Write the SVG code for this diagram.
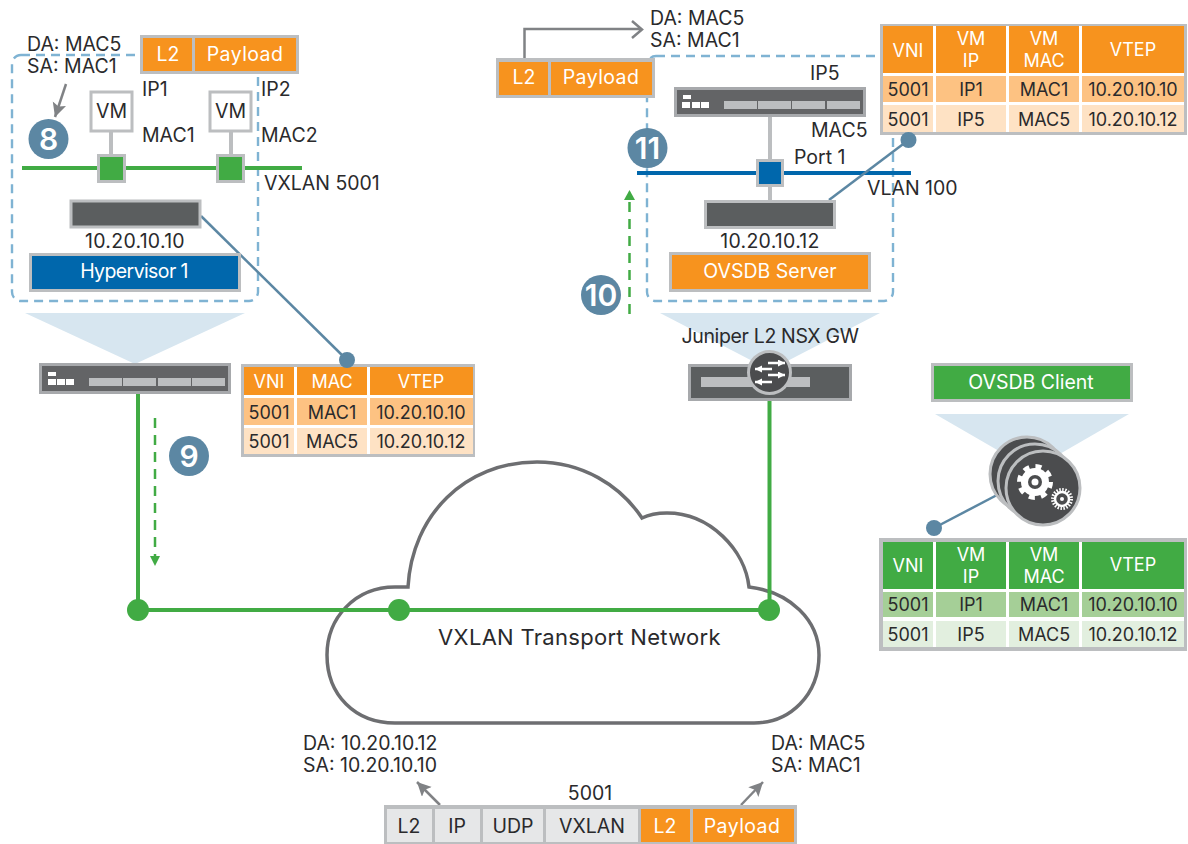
<svg xmlns="http://www.w3.org/2000/svg" width="1188" height="844" viewBox="0 0 1188 844">
<style>
text{font-family:"Inter","Liberation Sans",sans-serif;font-size:19.5px;fill:#2a2a2c}
.w{fill:#fff}
.m{text-anchor:middle}
.ip{letter-spacing:.27px}
.pl{letter-spacing:.4px}
.hv{letter-spacing:-.6px}
.jn{letter-spacing:-.35px}
.tb text{font-size:18px;letter-spacing:0}
.dash{fill:none;stroke:#7fb3d3;stroke-width:2.4;stroke-dasharray:9 6}
.box{stroke:#bcbec0;stroke-width:3}
.org{fill:#f7931e}.o1{fill:#fdc282}.o2{fill:#fee2c4}
.grn{fill:#41ab44}.g1{fill:#a5cf97}.g2{fill:#e2efdf}
.blu{fill:#0067ac}
.ltb{fill:#bcbec0}
.dark{fill:#5b5e5f;stroke:#bcbec0;stroke-width:3}
.sw{fill:#636466;stroke:#a7a9ac;stroke-width:3}
.tri{fill:#d7e6f0}
.badge{fill:#5c87a3}
.bt{fill:#fff;font-size:30px;font-weight:600;text-anchor:middle}
.ln{stroke:#bcbec0;stroke-width:4;fill:none}
.st{stroke:#5c87a3;stroke-width:2.5;fill:none}
.gl{stroke:#41ab44;stroke-width:4;fill:none}
.gd{stroke:#41ab44;stroke-width:2.5;fill:none;stroke-dasharray:10 7}
.ga{stroke:#808285;stroke-width:2.5;fill:none}
.disc{fill:#4b4c4e;stroke:#bcbec0;stroke-width:3}
.wa{stroke:#fff;stroke-width:2.5;fill:none}
</style>
<defs>
<marker id="gh" markerUnits="userSpaceOnUse" markerWidth="16" markerHeight="16" refX="14" refY="7" orient="auto"><path d="M0 0L14 7L0 14L3 7Z" fill="#808285"/></marker>
<marker id="wh" markerUnits="userSpaceOnUse" markerWidth="8" markerHeight="8" refX="7" refY="3.5" orient="auto"><path d="M0 0L7 3.5L0 7Z" fill="#fff"/></marker>
</defs>

<g id="triangles">
<path class="tri" d="M25 313H245L135 364Z"/>
<path class="tri" d="M660 313H880L770 370Z"/>
<path class="tri" d="M935 414H1129L1032 470Z"/>
</g>

<g id="region-left"><rect class="dash" x="12" y="55" width="246" height="246" rx="9"/></g>
<g id="region-right"><rect class="dash" x="647" y="56" width="246" height="245" rx="9"/></g>

<g id="cloud">
<path d="M408 587C412 515 465 462 537 462C582 462 620 485 642 518C650 514 658 513 667 513C710 513 745 550 749 587C790 592 819 620 819 655C819 695 790 723 754 723H395C355 723 327 695 327 655C327 618 355 587 395 587Z" fill="#fff" stroke="#6d6e71" stroke-width="3.5"/>
<text x="579.5" y="645" class="m" style="font-size:22px;letter-spacing:.3px">VXLAN Transport Network</text>
</g>

<g id="connectors">
<path class="gl" d="M138 394V610H769M769.500 401V610"/>
<path class="gl" d="M22 168H302"/>
<path d="M637 173H911" stroke="#0067ac" stroke-width="4" fill="none"/>
<path class="ln" d="M111 132V155M231 132V155M770 116V159M770 187V201"/>
<path class="st" d="M201 216L347 360"/>
<path class="st" d="M829 200L908.500 140"/>
<path class="st" d="M934 528L997 495"/>
<path class="gd" d="M155 418V556"/>
<path d="M150 556H160L155 566Z" fill="#41ab44"/>
<path class="gd" d="M629.500 314V200"/>
<path d="M624 200H635L629.500 190Z" fill="#41ab44"/>
<path class="ga" d="M66 84L55 117" marker-end="url(#gh)"/>
<path class="ga" d="M524.500 58V29H642M632 21L642 29.500L632 38"/>
<path class="ga" d="M440 805L417 782" marker-end="url(#gh)"/>
<path class="ga" d="M741 805L763 782" marker-end="url(#gh)"/>
<circle class="grn" cx="138" cy="610" r="11"/>
<circle class="grn" cx="399" cy="610" r="11"/>
<circle class="grn" cx="769" cy="610" r="11"/>
</g>

<g id="frame-top-left">
<rect x="140" y="35" width="159" height="39" class="ltb"/>
<rect x="143" y="38" width="49" height="33" class="org"/><rect x="195" y="38" width="101" height="33" class="org"/>
<text x="168" y="61" class="w m">L2</text><text x="245" y="61" class="w m pl">Payload</text>
</g>
<g id="vm-1"><rect x="91" y="92" width="41" height="39" fill="#fff" class="box"/><text x="111.500" y="118" class="m">VM</text></g>
<g id="vm-2"><rect x="210" y="92" width="41" height="39" fill="#fff" class="box"/><text x="230.500" y="118" class="m">VM</text></g>
<g id="port-1"><rect x="98.500" y="155.500" width="26" height="26" class="grn box"/></g>
<g id="port-2"><rect x="217.500" y="155.500" width="26" height="26" class="grn box"/></g>
<g id="vtep-left"><rect x="71" y="201" width="129" height="26" class="dark"/></g>
<g id="hypervisor"><rect x="30.500" y="254.500" width="209" height="36" class="blu box"/><text x="134" y="278" class="w m hv">Hypervisor 1</text></g>

<g id="labels-left">
<text x="27" y="51">DA: MAC5</text><text x="27" y="73">SA: MAC1</text>
<text x="142" y="96">IP1</text><text x="142" y="142">MAC1</text>
<text x="261" y="96">IP2</text><text x="261" y="142">MAC2</text>
<text x="264" y="190">VXLAN 5001</text>
<text x="135" y="248" class="m ip">10.20.10.10</text>
</g>

<g id="frame-top-right">
<rect x="496" y="58" width="159" height="40" class="ltb"/>
<rect x="499" y="62" width="49" height="33" class="org"/><rect x="551" y="62" width="101" height="33" class="org"/>
<text x="524" y="84" class="w m">L2</text><text x="601" y="84" class="w m pl">Payload</text>
</g>
<g id="switch-right">
<rect x="675.500" y="88.500" width="189" height="27" class="sw"/>
<g fill="#fff"><rect x="683" y="95" width="8" height="4"/><rect x="682" y="102" width="8" height="6"/><rect x="692" y="102" width="8" height="6"/><rect x="701" y="102" width="8" height="6"/></g>
<g class="ltb"><rect x="724" y="101" width="33" height="8"/><rect x="758" y="101" width="33" height="8"/><rect x="792" y="101" width="33" height="8"/><rect x="827" y="101" width="33" height="8"/></g>
</g>
<g id="port-3"><rect x="757.500" y="160.500" width="25" height="25" class="blu box"/></g>
<g id="vtep-right"><rect x="705.500" y="201.500" width="129" height="26" class="dark"/></g>
<g id="ovsdb-server"><rect x="670.500" y="253.500" width="199" height="37" class="org box"/><text x="770" y="278" class="w m">OVSDB Server</text></g>

<g id="labels-right">
<text x="650" y="25">DA: MAC5</text><text x="650" y="47">SA: MAC1</text>
<text x="810" y="80">IP5</text><text x="811" y="137">MAC5</text>
<text x="794" y="164">Port 1</text><text x="867" y="195">VLAN 100</text>
<text x="770" y="248" class="m ip">10.20.10.12</text>
<text x="770" y="343" class="m jn">Juniper L2 NSX GW</text>
</g>

<g id="table-orange" class="tb">
<rect x="880" y="24" width="307" height="111" class="ltb"/>
<rect x="883" y="26" width="301" height="106" fill="#fff"/>
<g class="org"><rect x="883" y="26" width="50" height="47"/><rect x="936" y="26" width="70" height="47"/><rect x="1009" y="26" width="70" height="47"/><rect x="1082" y="26" width="102" height="47"/></g>
<g class="o1"><rect x="883" y="76" width="50" height="26"/><rect x="936" y="76" width="70" height="26"/><rect x="1009" y="76" width="70" height="26"/><rect x="1082" y="76" width="102" height="26"/></g>
<g class="o2"><rect x="883" y="105" width="50" height="27"/><rect x="936" y="105" width="70" height="27"/><rect x="1009" y="105" width="70" height="27"/><rect x="1082" y="105" width="102" height="27"/></g>
<text x="908" y="57" class="w m">VNI</text><text x="971" y="45" class="w m">VM</text><text x="971" y="67" class="w m">IP</text><text x="1044" y="45" class="w m">VM</text><text x="1044" y="67" class="w m">MAC</text><text x="1133" y="56" class="w m">VTEP</text>
<text x="908" y="96" class="m">5001</text><text x="971" y="96" class="m">IP1</text><text x="1044" y="96" class="m">MAC1</text><text x="1133" y="96" class="m">10.20.10.10</text>
<text x="908" y="126" class="m">5001</text><text x="971" y="126" class="m">IP5</text><text x="1044" y="126" class="m">MAC5</text><text x="1133" y="126" class="m">10.20.10.12</text>
</g>

<g id="switch-left">
<rect x="40.500" y="364.500" width="189" height="28" class="sw"/>
<g fill="#fff"><rect x="48" y="372" width="8" height="4"/><rect x="48" y="379" width="8" height="6"/><rect x="57" y="379" width="8" height="6"/><rect x="66" y="379" width="8" height="6"/></g>
<g class="ltb"><rect x="89" y="378" width="33" height="8"/><rect x="123" y="378" width="33" height="8"/><rect x="158" y="378" width="33" height="8"/><rect x="192" y="378" width="33" height="8"/></g>
</g>

<g id="table-left" class="tb">
<rect x="241" y="364" width="234" height="93" class="ltb"/>
<rect x="244" y="367" width="229" height="87" fill="#fff"/>
<g class="org"><rect x="244" y="367" width="50" height="28"/><rect x="297" y="367" width="70" height="28"/><rect x="370" y="367" width="103" height="28"/></g>
<g class="o1"><rect x="244" y="398" width="50" height="27"/><rect x="297" y="398" width="70" height="27"/><rect x="370" y="398" width="103" height="27"/></g>
<g class="o2"><rect x="244" y="428" width="50" height="26"/><rect x="297" y="428" width="70" height="26"/><rect x="370" y="428" width="103" height="26"/></g>
<text x="269" y="388" class="w m">VNI</text><text x="332" y="388" class="w m">MAC</text><text x="421" y="388" class="w m">VTEP</text>
<text x="269" y="419" class="m">5001</text><text x="332" y="419" class="m">MAC1</text><text x="421" y="419" class="m">10.20.10.10</text>
<text x="269" y="448" class="m">5001</text><text x="332" y="448" class="m">MAC5</text><text x="421" y="448" class="m">10.20.10.12</text>
</g>

<g id="juniper-gw">
<rect x="689.500" y="365.500" width="161" height="34" fill="#5b5e5f" stroke="#a7a9ac" stroke-width="3"/>
<rect x="701" y="377" width="109" height="10" class="ltb"/>
<circle cx="769.500" cy="372.500" r="21" class="disc"/>
<path class="wa" d="M768 363H785" marker-end="url(#wh)"/>
<path class="wa" d="M772 369H755" marker-end="url(#wh)"/>
<path class="wa" d="M768 375H785" marker-end="url(#wh)"/>
<path class="wa" d="M772 382H755" marker-end="url(#wh)"/>
</g>

<g id="ovsdb-client"><rect x="932.500" y="364.500" width="199" height="36" class="grn box"/><text x="1031" y="389" class="w m">OVSDB Client</text></g>

<g id="gears">
<circle cx="1027" cy="474" r="37" class="disc"/>
<circle cx="1035" cy="481" r="37" class="disc"/>
<circle cx="1043" cy="488" r="37" class="disc"/>
<circle cx="1035" cy="482" r="15.500" fill="none" stroke="#fff" stroke-width="5" stroke-dasharray="6 6.170"/>
<circle cx="1035" cy="482" r="14" fill="#fff"/>
<circle cx="1035" cy="482" r="7" fill="#4b4c4e"/>
<circle cx="1035" cy="482" r="3.500" fill="#fff"/>
<circle cx="1062" cy="499" r="9.500" fill="none" stroke="#fff" stroke-width="3" stroke-dasharray="1.500 1.480"/>
<circle cx="1062" cy="499" r="7" fill="none" stroke="#fff" stroke-width="2.500"/>
<circle cx="1062" cy="499" r="2" fill="#fff"/>
</g>

<g id="table-green" class="tb">
<rect x="879" y="538" width="308" height="113" class="ltb"/>
<rect x="883" y="542" width="301" height="105" fill="#fff"/>
<g class="grn"><rect x="883" y="542" width="50" height="47"/><rect x="936" y="542" width="70" height="47"/><rect x="1009" y="542" width="70" height="47"/><rect x="1082" y="542" width="102" height="47"/></g>
<g class="g1"><rect x="883" y="592" width="50" height="25"/><rect x="936" y="592" width="70" height="25"/><rect x="1009" y="592" width="70" height="25"/><rect x="1082" y="592" width="102" height="25"/></g>
<g class="g2"><rect x="883" y="621" width="50" height="26"/><rect x="936" y="621" width="70" height="26"/><rect x="1009" y="621" width="70" height="26"/><rect x="1082" y="621" width="102" height="26"/></g>
<text x="908" y="572" class="w m">VNI</text><text x="971" y="561" class="w m">VM</text><text x="971" y="583" class="w m">IP</text><text x="1044" y="561" class="w m">VM</text><text x="1044" y="583" class="w m">MAC</text><text x="1133" y="571" class="w m">VTEP</text>
<text x="908" y="611" class="m">5001</text><text x="971" y="611" class="m">IP1</text><text x="1044" y="611" class="m">MAC1</text><text x="1133" y="611" class="m">10.20.10.10</text>
<text x="908" y="641" class="m">5001</text><text x="971" y="641" class="m">IP5</text><text x="1044" y="641" class="m">MAC5</text><text x="1133" y="641" class="m">10.20.10.12</text>
</g>

<g id="connector-dots">
<circle class="badge" cx="347" cy="360" r="8"/>
<circle class="badge" cx="908.500" cy="140" r="8"/>
<circle class="badge" cx="934" cy="528" r="8"/>
</g>

<g id="badges">
<circle class="badge" cx="48.500" cy="139" r="20"/><text class="bt" x="48.500" y="150">8</text>
<circle class="badge" cx="189" cy="456" r="20"/><text class="bt" x="189" y="467">9</text>
<circle class="badge" cx="601" cy="295" r="20"/><text class="bt" x="601" y="306">10</text>
<circle class="badge" cx="647.500" cy="148" r="20"/><text class="bt" x="647.500" y="159">11</text>
</g>

<g id="packet-bottom">
<rect x="384" y="805" width="413" height="39" class="ltb"/>
<g fill="#e6e7e8"><rect x="387" y="809" width="45" height="33"/><rect x="435" y="809" width="45" height="33"/><rect x="483" y="809" width="60" height="33"/><rect x="546" y="809" width="92" height="33"/></g>
<g class="org"><rect x="641" y="809" width="49" height="33"/><rect x="693" y="809" width="101" height="33"/></g>
<text x="409" y="833" class="m">L2</text><text x="457" y="833" class="m">IP</text><text x="513" y="833" class="m">UDP</text><text x="592" y="833" class="m">VXLAN</text><text x="665" y="833" class="w m">L2</text><text x="742" y="833" class="w m pl">Payload</text>
<text x="590" y="800" class="m">5001</text>
<text x="303" y="750">DA: 10.20.10.12</text><text x="303" y="772">SA: 10.20.10.10</text>
<text x="771" y="750">DA: MAC5</text><text x="771" y="772">SA: MAC1</text>
</g>
</svg>
